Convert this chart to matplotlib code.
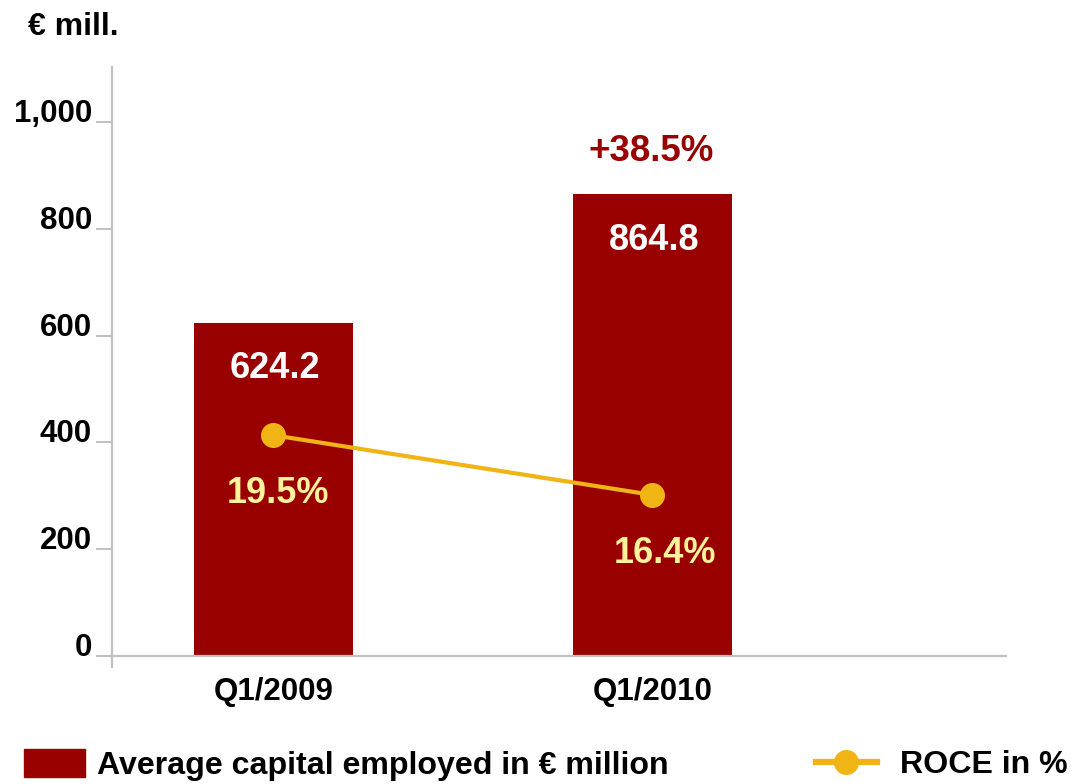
import matplotlib
matplotlib.use("Agg")
import matplotlib.pyplot as plt
from matplotlib.patches import Patch
from matplotlib.lines import Line2D

plt.rcParams["font.family"] = ["Liberation Sans", "DejaVu Sans"]
plt.rcParams["font.weight"] = "bold"

# data
quarters = ["Q1/2009", "Q1/2010"]
capital = [624.2, 864.8]          # average capital employed, EUR million
roce = [19.5, 16.4]               # ROCE in %
growth_label = "+38.5%"
y_ticks = [0, 200, 400, 600, 800, 1000]
y_tick_labels = ["0", "200", "400", "600", "800", "1,000"]

BAR = "#990000"
GOLD = "#F0B414"
PALE = "#FFF29A"
AXIS = "#C0C0C0"
INK = "#000000"

fig = plt.figure(figsize=(10.72, 7.84), dpi=100, facecolor="white")
ax = fig.add_axes([0.1045, 0.1633, 0.834, 0.7513])
x = list(range(len(quarters)))

bars = ax.bar(x, capital, width=0.418, color=BAR, zorder=2)
ax.set_xlim(-0.426, 1.933)
ax.set_ylim(0, 1103.6)

for sp in ["top", "right"]:
    ax.spines[sp].set_visible(False)
ax.spines["left"].set_color(AXIS)
ax.spines["bottom"].set_color(AXIS)
ax.spines["left"].set_linewidth(1.6)
ax.spines["bottom"].set_linewidth(1.6)
ax.spines["left"].set_bounds(-20, 1103.6)

ax.set_yticks(y_ticks)
ax.set_yticklabels(y_tick_labels, fontsize=22.5, fontweight="bold", color=INK)
for lab in ax.get_yticklabels():
    lab.set_va("baseline")
ax.tick_params(axis="y", length=11.5, width=1.4, color=AXIS, pad=3)
ax.set_xticks(x)
ax.set_xticklabels(quarters, fontsize=22.5, fontweight="bold", color=INK)
ax.tick_params(axis="x", length=0, pad=15)

# value labels inside bars
for b, v in zip(bars, capital):
    ax.annotate(f"{v:.1f}", (b.get_x() + b.get_width() / 2, v),
                xytext=(1, -33), textcoords="offset points",
                ha="center", va="center", fontsize=26, fontweight="bold",
                color="white", zorder=5)
ax.annotate(growth_label, (x[1], capital[1]), xytext=(-1, 31),
            textcoords="offset points", ha="center", va="center",
            fontsize=26.5, fontweight="bold", color=BAR)

fig.text(0.026, 0.966, "€ mill.", ha="left", va="center", fontsize=23,
         fontweight="bold", color=INK)

# ROCE on a hidden second axis
ax2 = ax.twinx()
ax2.set_ylim(8.04, 38.62)
ax2.set_xlim(ax.get_xlim())
ax2.axis("off")
ax2.plot(x, roce, color=GOLD, linewidth=3, marker="o", markersize=17,
         zorder=4)
for xi, r, dx in zip(x, roce, [3, 9]):
    ax2.annotate(f"{r:.1f}%", (xi, r), xytext=(dx, -42),
                 textcoords="offset points", ha="center", va="center",
                 fontsize=26, fontweight="bold", color=PALE)

# legend entries
h1 = Patch(facecolor=BAR, edgecolor=BAR)
fig.legend([h1], ["Average capital employed in € million"],
           loc="center left", bbox_to_anchor=(0.0224, 0.0245),
           frameon=False, fontsize=23.1, handlelength=1.9,
           handleheight=0.97, handletextpad=0.37, borderpad=0,
           borderaxespad=0)
h2 = Line2D([0], [0], color=GOLD, linewidth=4.5, marker="o",
            markersize=17)
fig.legend([h2], ["ROCE in %"], loc="center left",
           bbox_to_anchor=(0.761, 0.0245), frameon=False, fontsize=23.1,
           handlelength=1.9, handletextpad=0.71, borderpad=0,
           borderaxespad=0)

fig.savefig("out.png", dpi=100, facecolor="white")
